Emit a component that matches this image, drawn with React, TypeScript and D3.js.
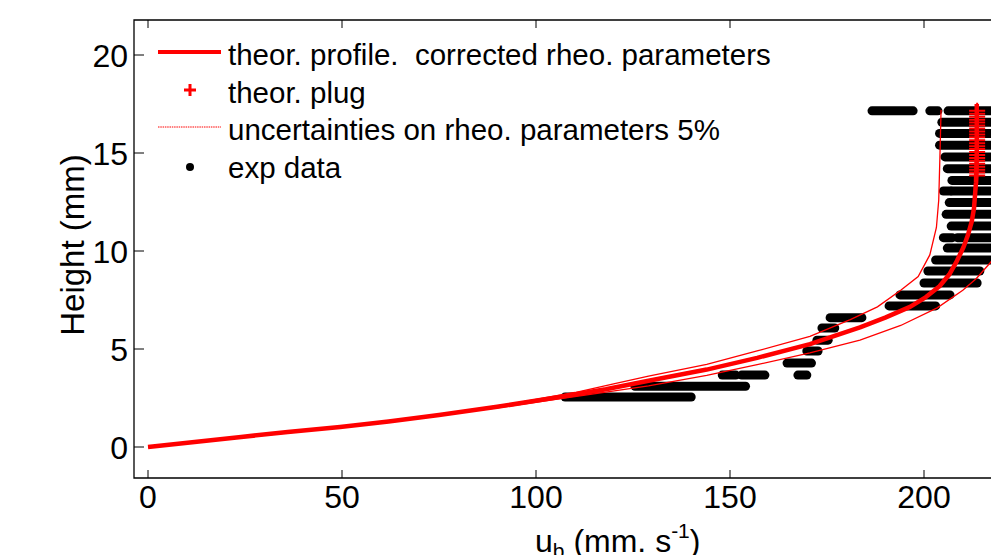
import React, { useEffect, useRef } from "react";
import * as d3 from "d3";

const xTicks = [0, 50, 100, 150, 200];
const yTicks = [0, 5, 10, 15, 20];

// theoretical velocity profile, [u (mm/s), height (mm)]
const profile: [number, number][] = [
  [0, 0], [12, 0.25], [24, 0.51], [36, 0.77], [49.5, 1.02], [62, 1.3], [75, 1.63],
  [90, 2.05], [106, 2.55], [118, 2.95], [129, 3.38], [144, 3.95], [157, 4.55],
  [170.6, 5.25], [183.5, 6.1], [190, 6.6], [196.4, 7.15], [200.5, 7.65], [204, 8.2],
  [206.5, 8.8], [208.5, 9.5], [210.2, 10.2], [211.3, 10.8], [212.3, 11.5],
  [212.9, 12.2], [213.4, 13.5], [213.6, 15], [213.6, 17.5],
];

// uncertainty profiles (+/- 5% on rheological parameters)
const upperBound: [number, number][] = [
  [0, 0], [25, 0.53], [50, 1.05], [75, 1.66], [95, 2.25], [110, 2.78], [120, 3.22],
  [129, 3.62], [144, 4.22], [157, 4.9], [170.6, 5.65], [181, 6.5], [188, 7.15],
  [194, 8.0], [198.5, 8.7], [201.5, 9.8], [203.2, 11.2], [203.8, 12.6], [204.1, 14.8],
  [204.4, 17.2],
];
const lowerBound: [number, number][] = [
  [0, 0], [50, 1.0], [90, 2.0], [106, 2.45], [118, 2.8], [129, 3.12], [144, 3.65],
  [157, 4.2], [170.6, 4.8], [183.5, 5.45], [194, 6.2], [203.4, 7.1], [210, 8.0],
  [213.5, 8.6], [217.3, 9.45], [220, 10.5], [222, 12], [223, 14], [223.2, 17.2],
];

// theoretical plug
const plugU = 213.7;
const plugH = [
  13.85, 14.0, 14.15, 14.3, 14.45, 14.6, 14.75, 14.9, 15.05, 15.2, 15.35, 15.5,
  15.65, 15.8, 15.95, 16.1, 16.25, 16.4, 16.55, 16.7, 16.85, 17.0, 17.15,
];

// experimental data: rows of dots [height, u from, u to]
const expRows: [number, number, number][] = [
  [2.55, 107.5, 140], [3.1, 125.5, 154],
  [3.67, 148, 151.5], [3.67, 153, 159], [3.67, 167.5, 169.8],
  [4.28, 164.7, 171], [4.9, 169.8, 172.7], [5.45, 172.4, 175.3], [6.07, 173.7, 177],
  [6.6, 175.8, 184], [7.2, 191, 203], [7.76, 193.8, 206.7], [8.37, 200, 213.7],
  [8.98, 201, 214.4], [9.54, 203, 219], [10.15, 206, 225],
  [10.68, 205, 207.3], [10.68, 208.6, 225], [11.27, 207, 225], [11.87, 205.7, 225],
  [12.47, 206.5, 225], [13.06, 205, 206.8], [13.06, 207.2, 225], [13.6, 207.2, 225],
  [14.2, 206, 225], [14.8, 205.4, 225], [15.4, 204, 225], [16.0, 204, 225],
  [16.57, 204.6, 225], [17.15, 186.6, 197.2], [17.15, 201.5, 203.6], [17.15, 206.2, 225],
];

const legendItems = [
  "theor. profile.  corrected rheo. parameters",
  "theor. plug",
  "uncertainties on rheo. parameters 5%",
  "exp data",
];

const FONT = "'Liberation Sans', Arial, Helvetica, sans-serif";
const RED = "#ff0000";

const App = () => {
  const ref = useRef<SVGSVGElement>(null);

  useEffect(() => {
    const svg = d3.select(ref.current);
    svg.selectAll("*").remove();

    const x = d3.scaleLinear().domain([0, 200]).range([148, 924]);
    const y = d3.scaleLinear().domain([0, 20]).range([447, 55]);
    const left = 134, top = 20, bottom = 478, right = 1110;

    svg.append("defs").append("clipPath").attr("id", "plotArea")
      .append("rect").attr("x", left).attr("y", top)
      .attr("width", right - left).attr("height", bottom - top);

    const plot = svg.append("g").attr("clip-path", "url(#plotArea)");

    // exp data
    plot.selectAll("line.exp").data(expRows).enter().append("line")
      .attr("class", "exp")
      .attr("x1", d => x(d[1])).attr("x2", d => x(d[2]))
      .attr("y1", d => y(d[0])).attr("y2", d => y(d[0]))
      .attr("stroke", "#000").attr("stroke-width", 9).attr("stroke-linecap", "round");

    const line = d3.line<[number, number]>().x(d => x(d[0])).y(d => y(d[1]));

    [upperBound, lowerBound].forEach(b => {
      plot.append("path").datum(b).attr("d", line)
        .attr("fill", "none").attr("stroke", RED).attr("stroke-width", 1.3);
    });

    plot.append("path").datum(profile).attr("d", line)
      .attr("fill", "none").attr("stroke", RED).attr("stroke-width", 4.5)
      .attr("stroke-linejoin", "round");

    plot.selectAll("path.plug").data(plugH).enter().append("path")
      .attr("class", "plug")
      .attr("d", h => `M${x(plugU) - 8},${y(h)}h16M${x(plugU)},${y(h) - 8}v16`)
      .attr("stroke", RED).attr("stroke-width", 2).attr("fill", "none");

    // axes box
    const ax = svg.append("g").attr("stroke", "#000").attr("fill", "none");
    ax.append("path")
      .attr("d", `M${right},${top}H${left}V${bottom}H${right}`)
      .attr("stroke-width", 1.3);

    xTicks.forEach(t => {
      ax.append("line").attr("x1", x(t)).attr("x2", x(t))
        .attr("y1", bottom).attr("y2", bottom - 8).attr("stroke-width", 1);
      ax.append("line").attr("x1", x(t)).attr("x2", x(t))
        .attr("y1", top).attr("y2", top + 8).attr("stroke-width", 1);
    });
    yTicks.forEach(t => {
      ax.append("line").attr("x1", left).attr("x2", left + 10)
        .attr("y1", y(t)).attr("y2", y(t)).attr("stroke-width", 1);
    });

    const labels = svg.append("g").attr("font-family", FONT).attr("fill", "#000");
    labels.selectAll("text.xt").data(xTicks).enter().append("text")
      .attr("x", d => x(d)).attr("y", 508).attr("text-anchor", "middle")
      .attr("font-size", 32).text(d => d);
    labels.selectAll("text.yt").data(yTicks).enter().append("text")
      .attr("x", 128).attr("y", d => y(d) + 12).attr("text-anchor", "end")
      .attr("font-size", 32).text(d => d);

    labels.append("text")
      .attr("transform", "translate(84,245) rotate(-90)")
      .attr("text-anchor", "middle").attr("font-size", 33)
      .text("Height (mm)");

    const xl = labels.append("text").attr("x", 535).attr("y", 552).attr("font-size", 32);
    xl.append("tspan").text("u");
    xl.append("tspan").attr("font-size", 21).attr("dy", 6).text("b");
    xl.append("tspan").attr("dy", -6).style("white-space", "pre").text(" (mm. s");
    xl.append("tspan").attr("font-size", 21).attr("dy", -14).text("-1");
    xl.append("tspan").attr("dy", 14).text(")");

    // legend
    const lg = svg.append("g");
    const rowY = [52, 90, 127, 165];
    lg.append("line").attr("x1", 158).attr("x2", 221).attr("y1", rowY[0]).attr("y2", rowY[0])
      .attr("stroke", RED).attr("stroke-width", 4);
    lg.append("path").attr("d", `M184,${rowY[1]}h12M190,${rowY[1] - 6}v12`)
      .attr("stroke", RED).attr("stroke-width", 3);
    lg.append("line").attr("x1", 158).attr("x2", 221).attr("y1", rowY[2]).attr("y2", rowY[2])
      .attr("stroke", RED).attr("stroke-width", 1).attr("stroke-dasharray", "1.5,0.8");
    lg.append("circle").attr("cx", 190).attr("cy", rowY[3] + 2).attr("r", 4).attr("fill", "#000");
    lg.selectAll("text").data(legendItems).enter().append("text")
      .attr("x", 228).attr("y", (d, i) => rowY[i] + 13)
      .attr("font-family", FONT).attr("font-size", 29.5)
      .style("white-space", "pre").text(d => d);
  }, []);

  return (
    <svg ref={ref} width={991} height={555}
      style={{ position: "absolute", left: 0, top: 0, background: "#fff" }} />
  );
};

export default App;
